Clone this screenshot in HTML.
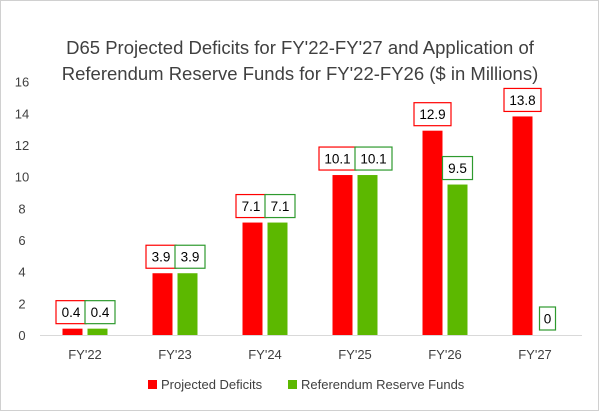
<!DOCTYPE html>
<html><head><meta charset="utf-8"><style>
body{margin:0;background:#fff}
svg{display:block;font-family:"Liberation Sans",sans-serif}
</style></head><body>
<svg id="c" width="600" height="412">
<rect x="0.5" y="0.5" width="598" height="410" fill="#fff" stroke="#d0d0d0"/>
<text x="300" y="54" text-anchor="middle" font-size="18.5" fill="#404040">D65 Projected Deficits for FY'22-FY'27 and Application of</text>
<text x="300" y="80" text-anchor="middle" font-size="18.5" fill="#404040">Referendum Reserve Funds for FY'22-FY26 ($ in Millions)</text>
<g id="plot"></g>
<g>
<rect x="148" y="380" width="9" height="9" fill="#ff0000"/>
<text x="161" y="389" font-size="13" fill="#404040">Projected Deficits</text>
<rect x="288" y="380" width="9" height="9" fill="#5cb800"/>
<text x="301" y="389" font-size="13" fill="#404040">Referendum Reserve Funds</text>
</g>
</svg>
<script>
const categories=["FY'22","FY'23","FY'24","FY'25","FY'26","FY'27"];
const deficits=[0.4,3.9,7.1,10.1,12.9,13.8];
const reserves=[0.4,3.9,7.1,10.1,9.5,0];
const yTicks=[0,2,4,6,8,10,12,14,16];
const NS="http://www.w3.org/2000/svg";
const g=document.getElementById('plot');
const x0=40,band=90,y0=335,yTop=81.6,yMax=16;
const y=v=>y0-(v/yMax)*(y0-yTop);
const bx=i=>x0+band*i+band/2;
function el(t,a){const e=document.createElementNS(NS,t);for(const k in a)e.setAttribute(k,a[k]);g.appendChild(e);return e;}
yTicks.forEach(v=>{
 const t=el('text',{x:22,y:y(v)+5,'text-anchor':'middle','font-size':13,fill:'#404040'});
 t.textContent=v;
 
 
});
const ax=el('line',{x1:x0,x2:582,y1:y0+0.5,y2:y0+0.5,stroke:'#d9d9d9','stroke-width':1});


const bw=s=>s.length*7+9;
function label(left,v,col,ty){
 const s=String(v);const w=bw(s);
 const r=el('rect',{x:left,y:ty-24,width:w,height:23,fill:'#fff',stroke:col,'stroke-width':1.2});
 
 
 const t=el('text',{x:left+w/2,y:ty-7.5,'text-anchor':'middle','font-size':13.5,fill:'#000'});
 t.textContent=s;
 
 
}
categories.forEach((c,i)=>{
 const cx=bx(i);
 const r1=el('rect',{x:cx-22.5,y:y(deficits[i]),width:20,height:y0-y(deficits[i]),fill:'#ff0000'});
 
 
 const r2=el('rect',{x:cx+2.5,y:y(reserves[i]),width:20,height:y0-y(reserves[i]),fill:'#5cb800'});
 
 
 const t=el('text',{x:cx,y:359,'text-anchor':'middle','font-size':13,fill:'#404040'});
 t.textContent=c;
 
 
});
categories.forEach((c,i)=>{
 const cx=bx(i);
 const sd=String(deficits[i]),sr=String(reserves[i]);
 const close=Math.abs(deficits[i]-reserves[i])<0.5;
 if(close){
  label(cx-bw(sd)+1,deficits[i],'#ff0000',y(deficits[i])-4);
  label(cx,reserves[i],'#2e9a2e',y(reserves[i])-4);
 }else{
  label(cx-12.5-bw(sd)/2,deficits[i],'#ff0000',y(deficits[i])-4);
  label(cx+12.5-bw(sr)/2,reserves[i],'#2e9a2e',y(reserves[i])-4);
 }
});
</script>
</body></html>
